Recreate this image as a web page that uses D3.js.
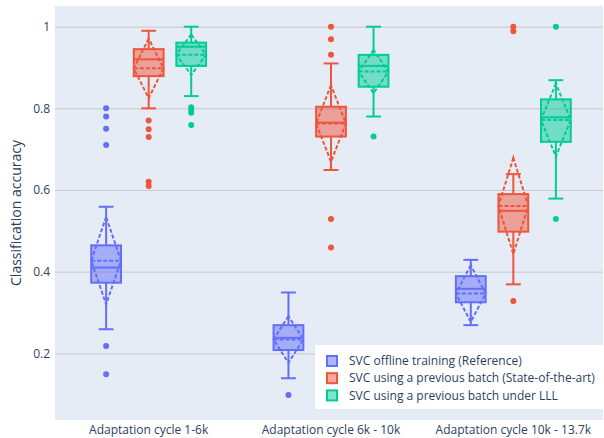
<!DOCTYPE html>
<html><head><meta charset="utf-8">
<script src="https://cdn.jsdelivr.net/npm/d3@7"></script>
<style>body{margin:0;background:#fff}svg{display:block}text{font-family:"Open Sans",Verdana,Arial,sans-serif}</style>
</head><body><svg id="c" width="604" height="438"></svg>
<script>
const categories = ["Adaptation cycle 1-6k", "Adaptation cycle 6k - 10k", "Adaptation cycle 10k - 13.7k"];
const seriesNames = ["SVC offline training (Reference)", "SVC using a previous batch (State-of-the-art)", "SVC using a previous batch under LLL"];
const colors = ["#636efa", "#EF553B", "#00cc96"];
const yTicks = [0.2, 0.4, 0.6, 0.8, 1];

// per series, one value per category
const lowerFence = [[0.259, 0.139, 0.269], [0.800, 0.649, 0.369], [0.830, 0.780, 0.579]];
const q1 = [[0.373, 0.208, 0.325], [0.879, 0.731, 0.498], [0.904, 0.853, 0.718]];
const median = [[0.410, 0.238, 0.358], [0.920, 0.765, 0.549], [0.951, 0.904, 0.778]];
const q3 = [[0.4645, 0.269, 0.389], [0.945, 0.804, 0.590], [0.961, 0.931, 0.822]];
const upperFence = [[0.559, 0.349, 0.429], [0.990, 0.910, 0.639], [1.0, 1.0, 0.869]];
const means = [[0.427, 0.234, 0.3465], [0.898, 0.763, 0.561], [0.9315, 0.890, 0.7715]];
const sds = [[0.107, 0.057, 0.0695], [0.073, 0.094, 0.118], [0.0495, 0.053, 0.0895]];
const outliers = [
  [[0.80, 0.78, 0.75, 0.71, 0.218, 0.149], [0.098], []],
  [[0.770, 0.749, 0.730, 0.620, 0.610], [1.0, 0.969, 0.931, 0.529, 0.459], [1.0, 0.989, 0.328]],
  [[0.803, 0.796, 0.789, 0.759], [0.731], [1.0, 0.529]]
];

const svg = d3.select("#c");
const plot = {l: 55, r: 603, t: 6, b: 420};
const textColor = "#2a3f5f";

const y = d3.scaleLinear().domain([0.0367, 1.0507]).range([plot.b, plot.t]);
const x = d3.scaleBand().domain(categories).range([57.5, 604.5]);
const bw = x.bandwidth();
const xi = d3.scaleBand().domain(seriesNames).range([-0.35 * bw, 0.35 * bw]).paddingInner(0.3).paddingOuter(0.15);

svg.append("rect").attr("x", plot.l).attr("y", plot.t).attr("width", plot.r - plot.l).attr("height", plot.b - plot.t).attr("fill", "#E5ECF6");

// y axis
const yAxis = d3.axisLeft(y).tickValues(yTicks).tickFormat(d => d === 1 ? "1" : d3.format(".1f")(d)).tickSize(-(plot.r - plot.l)).tickPadding(5);
const ga = svg.append("g").attr("transform", `translate(${plot.l},0)`).call(yAxis);
ga.select(".domain").remove();
ga.selectAll(".tick line").attr("stroke", "#c8c8c8").attr("stroke-width", 1);
ga.selectAll(".tick text").attr("fill", textColor).attr("font-size", 12);

// x axis
const xAxis = d3.axisBottom(x).tickSize(0).tickPadding(5);
const gx = svg.append("g").attr("transform", `translate(0,${plot.b})`).call(xAxis);
gx.select(".domain").remove();
gx.selectAll(".tick text").attr("fill", textColor).attr("font-size", 12);

svg.append("text").attr("transform", `translate(21,${(plot.t + plot.b) / 2}) rotate(-90)`)
  .attr("text-anchor", "middle").attr("fill", textColor).attr("font-size", 14).text("Classification accuracy");

// boxes
seriesNames.forEach((name, s) => {
  const col = colors[s];
  const g = svg.append("g");
  categories.forEach((cat, c) => {
    const cx = x(cat) + bw / 2 + xi(name) + xi.bandwidth() / 2;
    const hw = xi.bandwidth() / 2;
    const cw = hw / 2;
    // whiskers
    g.append("line").attr("x1", cx).attr("x2", cx).attr("y1", y(upperFence[s][c])).attr("y2", y(q3[s][c])).attr("stroke", col).attr("stroke-width", 2);
    g.append("line").attr("x1", cx).attr("x2", cx).attr("y1", y(q1[s][c])).attr("y2", y(lowerFence[s][c])).attr("stroke", col).attr("stroke-width", 2);
    [upperFence[s][c], lowerFence[s][c]].forEach(v => {
      g.append("line").attr("x1", cx - cw).attr("x2", cx + cw).attr("y1", y(v)).attr("y2", y(v)).attr("stroke", col).attr("stroke-width", 2);
    });
    // box
    g.append("rect").attr("x", cx - hw).attr("width", 2 * hw).attr("y", y(q3[s][c])).attr("height", y(q1[s][c]) - y(q3[s][c]))
      .attr("fill", col).attr("fill-opacity", 0.5).attr("stroke", col).attr("stroke-width", 2);
    g.append("line").attr("x1", cx - hw).attr("x2", cx + hw).attr("y1", y(median[s][c])).attr("y2", y(median[s][c])).attr("stroke", col).attr("stroke-width", 2);
    // mean + sd
    const m = means[s][c], sd = sds[s][c];
    g.append("line").attr("x1", cx - hw).attr("x2", cx + hw).attr("y1", y(m)).attr("y2", y(m)).attr("stroke", col).attr("stroke-width", 2).attr("stroke-dasharray", "4,2");
    g.append("path").attr("d", `M${cx},${y(m + sd)}L${cx - hw},${y(m)}L${cx},${y(m - sd)}L${cx + hw},${y(m)}Z`)
      .attr("fill", "none").attr("stroke", col).attr("stroke-width", 2).attr("stroke-dasharray", "4,2");
    // outliers
    g.selectAll(null).data(outliers[s][c]).enter().append("circle").attr("cx", cx).attr("cy", d => y(d)).attr("r", 3).attr("fill", col);
  });
});

// legend
const lg = svg.append("g");
lg.append("rect").attr("x", 315).attr("y", 345).attr("width", 288).attr("height", 64).attr("fill", "#fff");
seriesNames.forEach((name, s) => {
  const cy = 361 + s * 17.2;
  lg.append("rect").attr("x", 327).attr("y", cy - 5).attr("width", 10).attr("height", 10)
    .attr("fill", colors[s]).attr("fill-opacity", 0.5).attr("stroke", colors[s]).attr("stroke-width", 2);
  lg.append("text").attr("x", 349).attr("y", cy).attr("dy", "0.35em").attr("fill", textColor).attr("font-size", 12).text(name);
});
</script></body></html>
